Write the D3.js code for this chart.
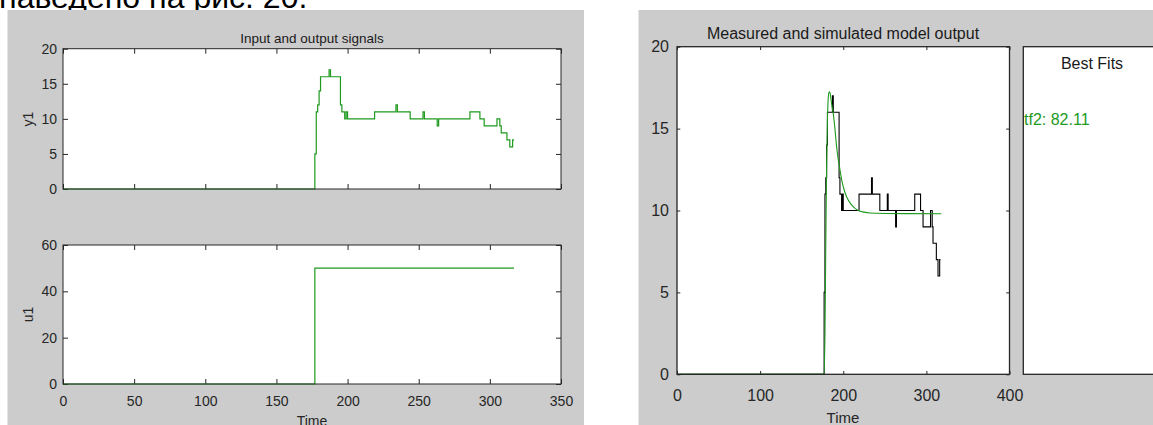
<!DOCTYPE html>
<html>
<head>
<meta charset="utf-8">
<script src="https://cdn.jsdelivr.net/npm/d3@7"></script>
<style>
  body { margin: 0; background: #fff; }
  svg { display: block; font-family: "Liberation Sans", Arial, sans-serif; }
</style>
</head>
<body>
<script>
// measured output y1 (change points, held until next point)
const measTime = [0, 177, 178, 179, 180, 181, 182, 187, 188, 195, 196, 198, 199, 200, 219, 234, 235, 244, 253, 254, 263, 264, 286, 293, 296, 305, 307, 308, 312, 314, 316, 317];
const measY1   = [0, 5, 11, 12, 14, 16, 16, 17, 16, 12, 11, 10, 11, 10, 11, 12, 11, 10, 11, 10, 9, 10, 11, 10, 9, 10, 9, 8, 7, 6, 7, 7];

// input u1
const inTime = [0, 177, 317];
const inU1   = [0, 50, 50];

// simulated tf2 output
const simTime = [0, 177, 178, 179, 180, 181, 182, 183, 184, 185, 186, 188, 190, 192, 194, 196, 198, 200, 204, 210, 218, 225, 232, 250, 318];
const simY    = [0, 0, 2.5, 8, 12.8, 15.6, 16.9, 17.25, 17.2, 16.9, 16.5, 15.9, 15.0, 13.9, 13.1, 12.5, 11.9, 11.45, 10.84, 10.34, 10.0, 9.9, 9.85, 9.82, 9.8];

const leftXTicks = [0, 50, 100, 150, 200, 250, 300, 350];
const y1Ticks = [0, 5, 10, 15, 20];
const u1Ticks = [0, 20, 40, 60];
const rightXTicks = [0, 100, 200, 300, 400];
const rightYTicks = [0, 5, 10, 15, 20];

const fitLabel = "tf2: 82.11";

const W = 1153, H = 425;
const green = "#1e9a1e";
const axisCol = "#262626";

const svg = d3.select("body").append("svg")
  .attr("width", W).attr("height", H);

svg.append("rect").attr("width", W).attr("height", H).attr("fill", "#fff");

// text of the page above the figures (cut at the top)
svg.append("text")
  .attr("x", -1).attr("y", 8)
  .attr("font-size", 32).attr("fill", "#000")
  .text("наведено на рис. 20.");

// figure backgrounds
svg.append("rect").attr("x", 7.5).attr("y", 10).attr("width", 576.5).attr("height", H - 10).attr("fill", "#cccccc");
svg.append("rect").attr("x", 638.5).attr("y", 10).attr("width", W - 638.5).attr("height", H - 10).attr("fill", "#cccccc");

function axes(opt) {
  const g = svg.append("g");
  const x = d3.scaleLinear().domain(opt.xDomain).range([opt.left, opt.right]);
  const y = d3.scaleLinear().domain(opt.yDomain).range([opt.bottom, opt.top]);

  g.append("rect")
    .attr("x", opt.left).attr("y", opt.top)
    .attr("width", opt.right - opt.left).attr("height", opt.bottom - opt.top)
    .attr("fill", "#fff");

  const t = opt.tick;
  const bottomAx = d3.axisBottom(x).tickValues(opt.xTicks).tickSize(-t).tickSizeOuter(0).tickPadding(opt.xPad);
  if (!opt.xLabels) bottomAx.tickFormat("");
  g.append("g").attr("transform", "translate(0," + opt.bottom + ")").call(bottomAx);
  g.append("g").attr("transform", "translate(0," + opt.top + ")")
    .call(d3.axisTop(x).tickValues(opt.xTicks).tickSize(-t).tickSizeOuter(0).tickFormat(""));
  g.append("g").attr("transform", "translate(" + opt.left + ",0)")
    .call(d3.axisLeft(y).tickValues(opt.yTicks).tickSize(-t).tickSizeOuter(0).tickPadding(opt.yPad));
  g.append("g").attr("transform", "translate(" + opt.right + ",0)")
    .call(d3.axisRight(y).tickValues(opt.yTicks).tickSize(-t).tickSizeOuter(0).tickFormat(""));

  g.selectAll(".domain").remove();
  g.selectAll(".tick line").attr("stroke", axisCol);
  g.selectAll(".tick text").attr("fill", axisCol).attr("font-size", opt.fs).attr("font-family", null);

  opt.lines.forEach(function (l) {
    const pts = l.t.map(function (d, i) { return [d, l.v[i]]; });
    g.append("path")
      .attr("d", d3.line().x(function (d) { return x(d[0]); }).y(function (d) { return y(d[1]); }).curve(l.curve)(pts))
      .attr("fill", "none").attr("stroke", l.color).attr("stroke-width", l.width);
  });

  g.append("rect")
    .attr("x", opt.left).attr("y", opt.top)
    .attr("width", opt.right - opt.left).attr("height", opt.bottom - opt.top)
    .attr("fill", "none").attr("stroke", axisCol).attr("stroke-width", opt.boxW);
  return { x: x, y: y };
}

// left figure: input and output signals
axes({
  left: 63, right: 561, top: 48.7, bottom: 189,
  xDomain: [0, 350], yDomain: [0, 20], xTicks: leftXTicks, yTicks: y1Ticks,
  xLabels: false, tick: 5, xPad: 12, yPad: 6, fs: 14, boxW: 1,
  lines: [{ t: measTime, v: measY1, color: green, width: 1.2, curve: d3.curveStepAfter }]
});
axes({
  left: 63, right: 561, top: 245, bottom: 384,
  xDomain: [0, 350], yDomain: [0, 60], xTicks: leftXTicks, yTicks: u1Ticks,
  xLabels: true, tick: 5, xPad: 12.5, yPad: 6, fs: 14, boxW: 1,
  lines: [{ t: inTime, v: inU1, color: green, width: 1.2, curve: d3.curveStepAfter }]
});

svg.append("text").attr("x", 312).attr("y", 42.5).attr("text-anchor", "middle")
  .attr("font-size", 13.5).attr("fill", "#1a1a1a").text("Input and output signals");
svg.append("text").attr("transform", "translate(33,119) rotate(-90)").attr("text-anchor", "middle")
  .attr("font-size", 14).attr("fill", axisCol).text("y1");
svg.append("text").attr("transform", "translate(33,314.5) rotate(-90)").attr("text-anchor", "middle")
  .attr("font-size", 14).attr("fill", axisCol).text("u1");
svg.append("text").attr("x", 312).attr("y", 426).attr("text-anchor", "middle")
  .attr("font-size", 14).attr("fill", axisCol).text("Time");

// right figure: measured and simulated model output
axes({
  left: 677, right: 1009.5, top: 46.7, bottom: 374.3,
  xDomain: [0, 400], yDomain: [0, 20], xTicks: rightXTicks, yTicks: rightYTicks,
  xLabels: true, tick: 3.3, xPad: 15, yPad: 8, fs: 16, boxW: 1.3,
  lines: [
    { t: measTime, v: measY1, color: "#000", width: 1.1, curve: d3.curveStepAfter },
    { t: simTime, v: simY, color: green, width: 1.1, curve: d3.curveMonotoneX }
  ]
});

svg.append("text").attr("x", 843).attr("y", 38.5).attr("text-anchor", "middle")
  .attr("font-size", 16).attr("fill", "#1a1a1a").text("Measured and simulated model output");
svg.append("text").attr("x", 843).attr("y", 423).attr("text-anchor", "middle")
  .attr("font-size", 15).attr("fill", axisCol).text("Time");

// best fits box
svg.append("rect").attr("x", 1023.3).attr("y", 46.7).attr("width", 140).attr("height", 327.6)
  .attr("fill", "#fff").attr("stroke", axisCol).attr("stroke-width", 1.3);
svg.append("text").attr("x", 1092).attr("y", 69.3).attr("text-anchor", "middle")
  .attr("font-size", 16).attr("fill", "#1a1a1a").text("Best Fits");
svg.append("text").attr("x", 1024).attr("y", 125).attr("font-size", 16)
  .attr("fill", green).text(fitLabel);
</script>
</body>
</html>
